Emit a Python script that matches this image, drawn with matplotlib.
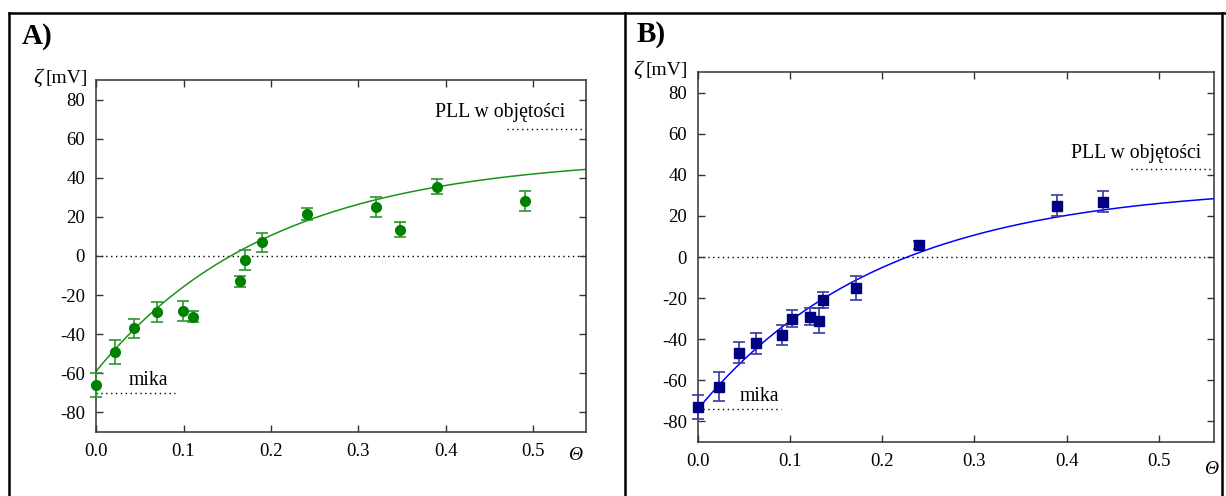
import numpy as np
import matplotlib.pyplot as plt
from matplotlib.lines import Line2D

# data panel A (circles)
thetaA = [0.0, 0.022, 0.044, 0.070, 0.099, 0.111, 0.165, 0.170, 0.190, 0.241, 0.320, 0.348, 0.390, 0.490]
zetaA = [-66, -49, -37, -28.5, -28, -31, -13, -2, 7, 21.5, 25, 13.5, 35.5, 28]
errA = [6, 6, 5, 5, 5, 3, 3, 5, 5, 3, 5, 4, 4, 5]

# data panel B (squares)
thetaB = [0.0, 0.0227, 0.045, 0.063, 0.0915, 0.102, 0.122, 0.131, 0.136, 0.172, 0.240, 0.390, 0.440]
zetaB = [-73, -63, -46.5, -42, -38, -30, -29, -31, -21, -15, 6, 25, 27]
errB = [6, 7, 5, 5, 5, 4, 4, 6, 4, 6, 2, 5, 5]

# fitted curves: zeta = plateau - (plateau - start) * exp(-theta / scale)
fitA = (51.0, -59.0, 0.2)
fitB = (35.0, -74.0, 0.2)

# reference levels
mikaA, pllA = -70, 65
mikaB, pllB = -74, 43

plt.rcParams['font.family'] = ['Liberation Serif', 'DejaVu Serif']
plt.rcParams['axes.unicode_minus'] = False
fontsize_tick = 13.5
fontsize_text = 14.2

fig = plt.figure(figsize=(12.26, 4.96), dpi=100)
W, H = 1226.0, 496.0


def px_axes(l, t, r, b):
    return fig.add_axes([l / W, 1 - b / H, (r - l) / W, (b - t) / H])


def style(ax):
    ax.set_xlim(0, 0.56)
    ax.set_ylim(-90, 90)
    ax.set_xticks([0.0, 0.1, 0.2, 0.3, 0.4, 0.5])
    ax.set_xticklabels(['0.0', '0.1', '0.2', '0.3', '0.4', '0.5'])
    ax.set_yticks(np.arange(-80, 81, 20))
    ax.tick_params(direction='in', top=True, right=True, length=5, width=1,
                   labelsize=fontsize_tick, color='#333333', pad=8)
    for s in ax.spines.values():
        s.set_color('#333333')
        s.set_linewidth(1.1)


def panel(ax, th, ze, er, fit, mika, pll, mk, mcol, ecol, lcol, mika_xy, pll_xy):
    style(ax)
    x = np.linspace(0, 0.56, 200)
    p, s0, sc = fit
    ax.plot(x, p - (p - s0) * np.exp(-x / sc), color=lcol, lw=1.1, zorder=2)
    ax.axhline(0, color='k', lw=1, ls=(0, (1, 2.5)), zorder=1)
    ax.plot([0, 0.09], [mika, mika], color='k', lw=1, ls=(0, (1, 2.5)), zorder=1)
    ax.plot([0.47, 0.56], [pll, pll], color='k', lw=1, ls=(0, (1, 2.5)), zorder=1)
    ax.errorbar(th, ze, yerr=er, fmt=mk, color=mcol, ecolor=ecol, markersize=7,
                elinewidth=1.2, capsize=4, capthick=1.2, zorder=3, clip_on=False)
    ax.text(mika_xy[0], mika_xy[1], 'mika', fontsize=fontsize_text)
    ax.text(pll_xy[0], pll_xy[1], 'PLL w objętości', fontsize=fontsize_text)


axA = px_axes(96, 80, 586, 432)
panel(axA, thetaA, zetaA, errA, fitA, mikaA, pllA, 'o', '#008000', '#2e962e', '#189418',
      (0.037, -66), (0.388, 71))
axB = px_axes(698, 72, 1214, 442)
panel(axB, thetaB, zetaB, errB, fitB, mikaB, pllB, 's', '#000080', '#3a3a9a', '#0000ff',
      (0.045, -70), (0.405, 48))

# axis labels
for xl, yl, xt, yt in [(88, 78, 575, 455), (688, 70, 1211, 470)]:
    fig.text((xl - 46) / W, 1 - yl / H, 'ζ', fontsize=16, style='italic', ha='right', va='center')
    fig.text(xl / W, 1 - yl / H, '[mV]', fontsize=14, ha='right', va='center')
    fig.text(xt / W, 1 - yt / H, 'Θ', fontsize=14, style='italic', ha='center', va='center')

# panel letters
fig.text(22 / W, 1 - 36 / H, 'A)', fontsize=21, fontweight='bold', va='center')
fig.text(637 / W, 1 - 34 / H, 'B)', fontsize=21, fontweight='bold', va='center')

# table frame
for xs, ys in [([9, 1226], [13, 13]), ([9, 9], [13, 496]),
               ([625, 625], [13, 496]), ([1222, 1222], [13, 496])]:
    fig.add_artist(Line2D([v / W for v in xs], [1 - v / H for v in ys],
                          color='k', lw=1.8, transform=fig.transFigure))

fig.savefig('out.png', dpi=100)
